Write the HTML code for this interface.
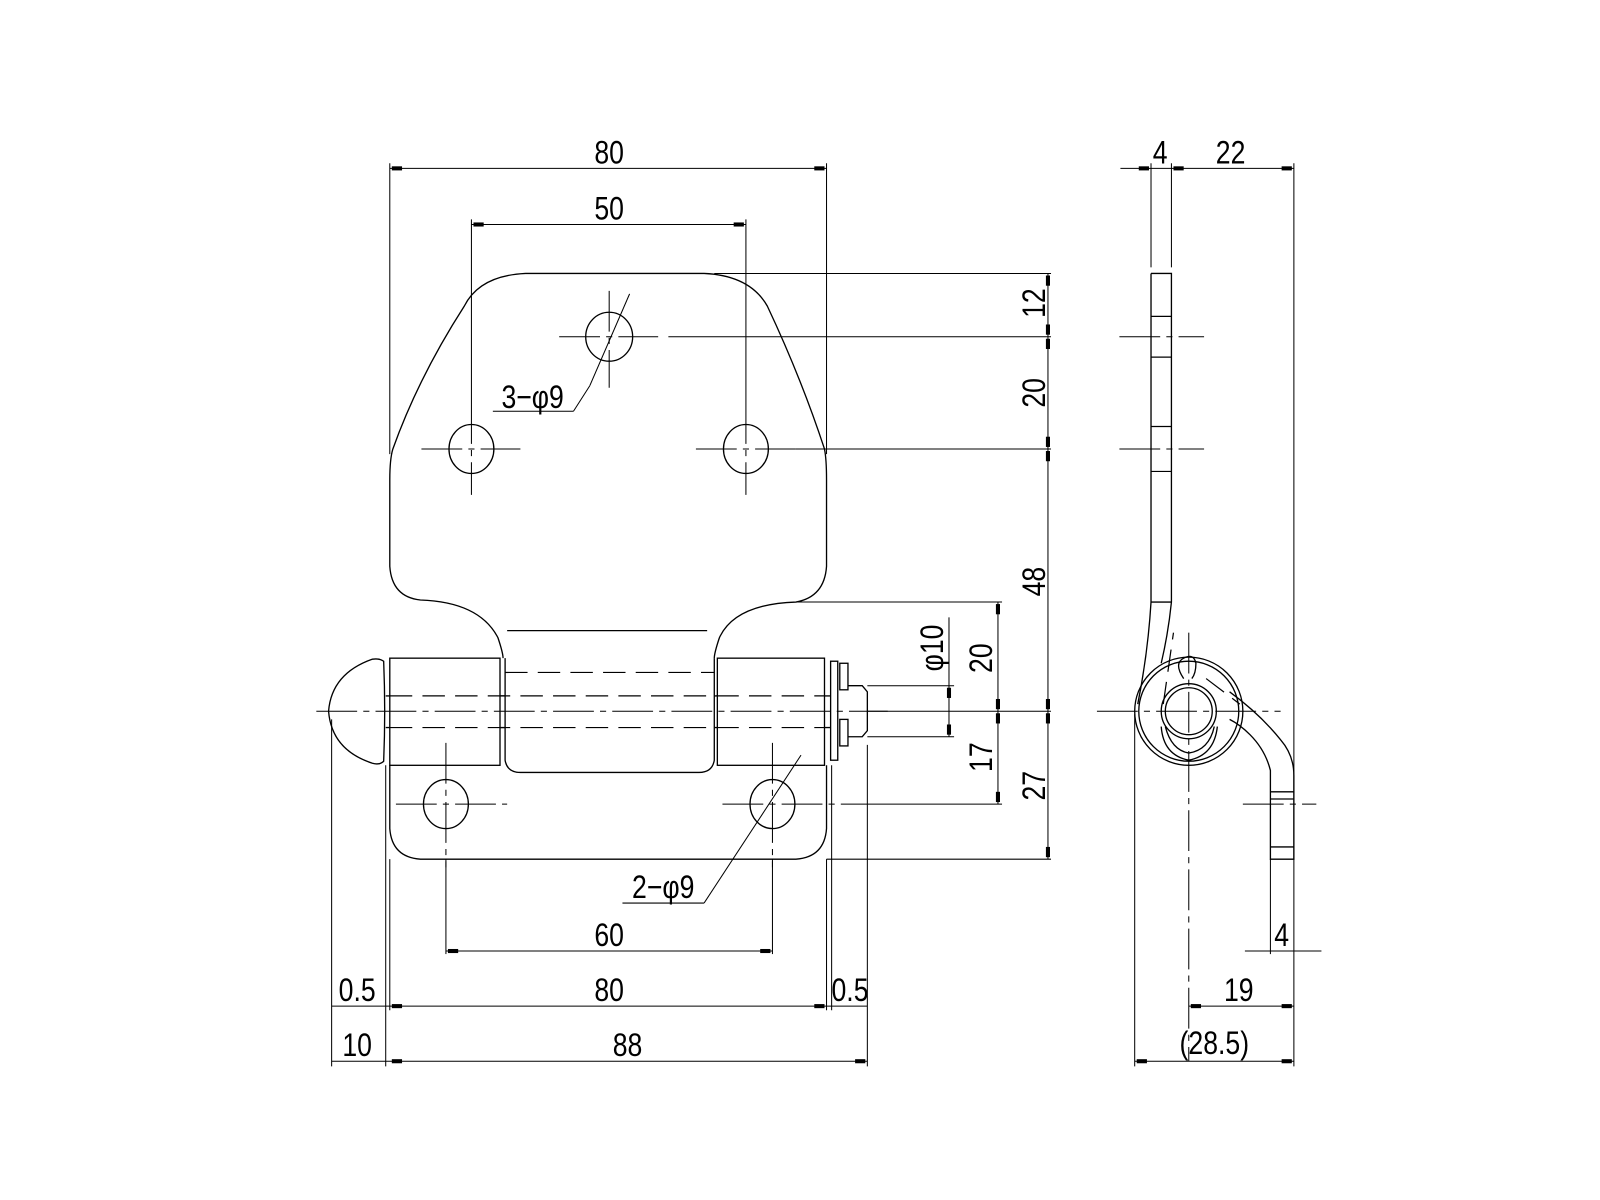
<!DOCTYPE html>
<html><head><meta charset="utf-8"><style>
html,body{margin:0;padding:0;background:#fff;width:1600px;height:1200px;overflow:hidden}
svg{display:block}
text{font-family:"Liberation Sans","Noto Sans CJK JP",sans-serif;font-size:29px;fill:#000;text-anchor:middle}
</style></head><body>
<svg width="1600" height="1200" viewBox="0 0 1568 1176" xmlns="http://www.w3.org/2000/svg">
<g fill="none" stroke="#000" stroke-width="1.3">
<path d="M515 268 L690 268 Q735 270 752 300 Q785 370 808 440 Q810 450 810 470 L810 555 Q808 585 780 590 Q720 592 705 625 Q700 640 700 645"/>
<path d="M515 268 Q470 270 455 300 Q410 370 385 440 Q382 450 382 470 L382 555 Q384 585 412 588 Q470 590 488 625 Q493 640 493 645"/>
<line x1="497" y1="618" x2="693" y2="618"/>
<ellipse cx="597" cy="330" rx="23" ry="24"/>
<ellipse cx="462" cy="440" rx="22" ry="24"/>
<ellipse cx="731" cy="440" rx="22" ry="24"/>
<ellipse cx="437" cy="788" rx="22" ry="24"/>
<ellipse cx="757" cy="788" rx="22" ry="24"/>
<rect x="382" y="645" width="108" height="105"/>
<rect x="703" y="645" width="105" height="105"/>
<path d="M495 645 L495 745 Q497 757 510 757 L685 757 Q698 757 700 745 L700 645"/>
<line x1="490" y1="682" x2="495" y2="682"/><line x1="490" y1="713" x2="495" y2="713"/>
<line x1="700" y1="682" x2="703" y2="682"/><line x1="700" y1="713" x2="703" y2="713"/>
<line x1="378" y1="682" x2="382" y2="682"/><line x1="378" y1="713" x2="382" y2="713"/>
<path d="M376 648 Q372 645 365 646 Q325 660 322 697 Q325 735 365 748 Q372 750 376 746 Q378 697 376 648Z"/>
<rect x="814" y="648" width="7" height="97"/>
<rect x="823" y="650" width="8" height="26"/>
<rect x="823" y="705" width="8" height="26"/>
<path d="M831 672 L845 672 L850 678 L850 716 L845 722 L831 722"/>
<line x1="808" y1="682" x2="814" y2="682"/><line x1="808" y1="713" x2="814" y2="713"/>
<path d="M382 750 L382 812 Q384 840 412 842 L780 842 Q808 840 810 812 L810 750"/>
<path d="M1128 268 L1148 268 L1148 590 Q1145 620 1138 650"/>
<path d="M1128 268 L1128 590 Q1125 640 1115 690"/>
<line x1="1128" y1="590" x2="1148" y2="590"/>
<circle cx="1165" cy="697" r="53"/>
<circle cx="1165" cy="697" r="49"/>
<circle cx="1165" cy="697" r="27"/>
<circle cx="1165" cy="697" r="23"/>
<path d="M1160 665 Q1150 650 1160 645 Q1170 640 1172 650 Q1172 660 1168 665"/>
<path d="M1138 712 Q1140 740 1165 745 Q1190 740 1193 712"/>
<path d="M1142 712 Q1148 735 1165 738 Q1185 735 1190 712"/>
<path d="M1205 678 Q1235 700 1255 725 Q1268 740 1268 760 L1268 842 L1245 842 L1245 755 Q1240 735 1225 720 Q1215 710 1205 705"/>
<line x1="1245" y1="776" x2="1268" y2="776"/><line x1="1245" y1="783" x2="1268" y2="783"/>
<line x1="1245" y1="830" x2="1268" y2="830"/>
</g>
<g fill="none" stroke="#000" stroke-width="1.2" stroke-dasharray="22,10">
<line x1="495" y1="659" x2="700" y2="659"/>
<line x1="382" y1="682" x2="808" y2="682"/>
<line x1="382" y1="713" x2="808" y2="713"/>
<line x1="1128" y1="310" x2="1148" y2="310"/><line x1="1128" y1="350" x2="1148" y2="350"/>
<line x1="1128" y1="418" x2="1148" y2="418"/><line x1="1128" y1="462" x2="1148" y2="462"/>
<line x1="1140" y1="690" x2="1150" y2="620"/>
<line x1="1182" y1="665" x2="1215" y2="690"/>
</g>
<g fill="none" stroke="#000" stroke-width="1" stroke-dasharray="40,6,6,6">
<line x1="310" y1="697" x2="870" y2="697"/>
<line x1="1075" y1="697" x2="1255" y2="697"/>
<line x1="1165" y1="620" x2="1165" y2="1040"/>
<line x1="1097" y1="330" x2="1180" y2="330"/>
<line x1="1097" y1="440" x2="1180" y2="440"/>
<line x1="1218" y1="788" x2="1290" y2="788"/>
<line x1="548" y1="330" x2="645" y2="330"/><line x1="597" y1="285" x2="597" y2="380"/>
<line x1="413" y1="440" x2="510" y2="440"/><line x1="462" y1="395" x2="462" y2="485"/>
<line x1="682" y1="440" x2="780" y2="440"/><line x1="731" y1="395" x2="731" y2="485"/>
<line x1="388" y1="788" x2="497" y2="788"/><line x1="437" y1="728" x2="437" y2="850"/>
<line x1="708" y1="788" x2="850" y2="788"/><line x1="757" y1="728" x2="757" y2="850"/>
</g>
<g fill="none" stroke="#000" stroke-width="1">
<line x1="382" y1="160" x2="382" y2="445"/><line x1="810" y1="160" x2="810" y2="445"/>
<line x1="382" y1="165" x2="810" y2="165"/>
<line x1="462" y1="215" x2="462" y2="395"/><line x1="731" y1="215" x2="731" y2="395"/>
<line x1="462" y1="220" x2="731" y2="220"/>
<line x1="700" y1="268" x2="1030" y2="268"/>
<line x1="655" y1="330" x2="1030" y2="330"/>
<line x1="780" y1="440" x2="1030" y2="440"/>
<line x1="780" y1="590" x2="982" y2="590"/>
<line x1="850" y1="697" x2="1030" y2="697"/>
<line x1="850" y1="788" x2="982" y2="788"/>
<line x1="810" y1="842" x2="1030" y2="842"/>
<line x1="1027" y1="268" x2="1027" y2="842"/>
<line x1="978" y1="590" x2="978" y2="788"/>
<line x1="850" y1="672" x2="935" y2="672"/><line x1="850" y1="722" x2="935" y2="722"/>
<line x1="930" y1="605" x2="930" y2="722"/>
<line x1="325" y1="705" x2="325" y2="1045"/>
<line x1="378" y1="750" x2="378" y2="1045"/>
<line x1="382" y1="842" x2="382" y2="990"/>
<line x1="810" y1="842" x2="810" y2="990"/>
<line x1="815" y1="750" x2="815" y2="990"/>
<line x1="850" y1="730" x2="850" y2="1045"/>
<line x1="437" y1="842" x2="437" y2="935"/><line x1="757" y1="842" x2="757" y2="935"/>
<line x1="437" y1="932" x2="757" y2="932"/>
<line x1="382" y1="986" x2="810" y2="986"/>
<line x1="325" y1="986" x2="382" y2="986"/><line x1="810" y1="986" x2="850" y2="986"/>
<line x1="325" y1="1040" x2="850" y2="1040"/>
<line x1="617" y1="288" x2="578" y2="378"/><line x1="578" y1="378" x2="562" y2="403"/>
<line x1="483" y1="403" x2="562" y2="403"/>
<line x1="785" y1="740" x2="690" y2="885"/><line x1="610" y1="885" x2="690" y2="885"/>
<line x1="1128" y1="160" x2="1128" y2="262"/><line x1="1148" y1="160" x2="1148" y2="262"/>
<line x1="1268" y1="160" x2="1268" y2="1045"/>
<line x1="1098" y1="165" x2="1268" y2="165"/>
<line x1="1112" y1="700" x2="1112" y2="1045"/>
<line x1="1112" y1="1040" x2="1268" y2="1040"/>
<line x1="1165" y1="986" x2="1268" y2="986"/>
<line x1="1245" y1="842" x2="1245" y2="935"/>
<line x1="1220" y1="932" x2="1295" y2="932"/>
</g>
<g fill="#000">
<rect x="384" y="163" width="10" height="4"/><rect x="798" y="163" width="10" height="4"/>
<rect x="464" y="218" width="10" height="4"/><rect x="719" y="218" width="10" height="4"/>
<rect x="439" y="930" width="10" height="4"/><rect x="745" y="930" width="10" height="4"/>
<rect x="384" y="984" width="10" height="4"/><rect x="798" y="984" width="10" height="4"/>
<rect x="384" y="1038" width="10" height="4"/><rect x="838" y="1038" width="10" height="4"/>
<rect x="1025" y="270" width="4" height="10"/><rect x="1025" y="318" width="4" height="10"/>
<rect x="1025" y="332" width="4" height="10"/><rect x="1025" y="428" width="4" height="10"/>
<rect x="1025" y="442" width="4" height="10"/><rect x="1025" y="685" width="4" height="10"/>
<rect x="1025" y="699" width="4" height="10"/><rect x="1025" y="830" width="4" height="10"/>
<rect x="976" y="592" width="4" height="10"/><rect x="976" y="685" width="4" height="10"/>
<rect x="976" y="699" width="4" height="10"/><rect x="976" y="776" width="4" height="10"/>
<rect x="928" y="674" width="4" height="10"/><rect x="928" y="710" width="4" height="10"/>
<rect x="1116" y="163" width="10" height="4"/><rect x="1150" y="163" width="10" height="4"/><rect x="1256" y="163" width="10" height="4"/>
<rect x="1167" y="984" width="10" height="4"/><rect x="1256" y="984" width="10" height="4"/>
<rect x="1114" y="1038" width="10" height="4"/><rect x="1256" y="1038" width="10" height="4"/>
</g>
<g transform="scale(1,1)">
<text transform="translate(597,160) scale(0.9,1.1)">80</text>
<text transform="translate(597,215) scale(0.9,1.1)">50</text>
<text transform="translate(522,400) scale(0.9,1.1)">3−φ9</text>
<text transform="translate(650,880) scale(0.9,1.1)">2−φ9</text>
<text transform="translate(597,927) scale(0.9,1.1)">60</text>
<text transform="translate(597,981) scale(0.9,1.1)">80</text>
<text transform="translate(615,1035) scale(0.9,1.1)">88</text>
<text transform="translate(350,981) scale(0.9,1.1)">0.5</text>
<text transform="translate(833,981) scale(0.9,1.1)">0.5</text>
<text transform="translate(350,1035) scale(0.9,1.1)">10</text>
<text transform="translate(1024,297) rotate(-90) scale(0.9,1.1)">12</text>
<text transform="translate(1024,385) rotate(-90) scale(0.9,1.1)">20</text>
<text transform="translate(1024,570) rotate(-90) scale(0.9,1.1)">48</text>
<text transform="translate(1024,770) rotate(-90) scale(0.9,1.1)">27</text>
<text transform="translate(972,645) rotate(-90) scale(0.9,1.1)">20</text>
<text transform="translate(972,742) rotate(-90) scale(0.9,1.1)">17</text>
<text transform="translate(924,635) rotate(-90) scale(0.9,1.1)">φ10</text>
<text transform="translate(1137,160) scale(0.9,1.1)">4</text>
<text transform="translate(1206,160) scale(0.9,1.1)">22</text>
<text transform="translate(1256,927) scale(0.9,1.1)">4</text>
<text transform="translate(1214,981) scale(0.9,1.1)">19</text>
<text transform="translate(1190,1033) scale(0.9,1.1)">(28.5)</text>
</g>
</svg>
</body></html>
